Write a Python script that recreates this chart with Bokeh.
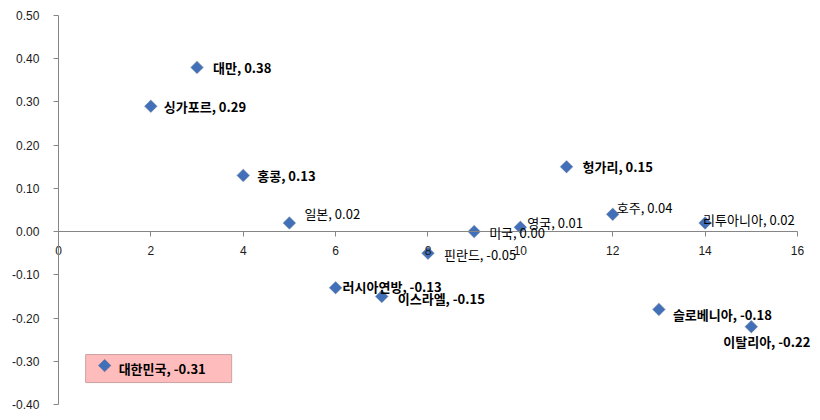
import math
from bokeh.plotting import figure
from bokeh.models import (ColumnDataSource, LabelSet, Label, Range1d, FixedTicker,
                          NumeralTickFormatter, LinearAxis)
from bokeh.core.properties import value
from bokeh.embed import file_html
from bokeh.resources import INLINE

# ---- data ----
countries = ["대한민국", "싱가포르", "대만", "홍콩", "일본", "러시아연방", "이스라엘",
             "핀란드", "미국", "영국", "헝가리", "호주", "슬로베니아", "리투아니아", "이탈리아"]
x_pos = [1, 2, 3, 4, 5, 6, 7, 8, 9, 10, 11, 12, 13, 14, 15]
values = [-0.31, 0.29, 0.38, 0.13, 0.02, -0.13, -0.15, -0.05, 0.00, 0.01, 0.15, 0.04,
          -0.18, 0.02, -0.22]
x_ticks = [0, 2, 4, 6, 8, 10, 12, 14, 16]
y_ticks = [-0.4, -0.3, -0.2, -0.1, 0.0, 0.1, 0.2, 0.3, 0.4, 0.5]
highlight = "대한민국"

# ---- label placement (pixels) and weights ----
label_style = {
    "싱가포르": (13, 0, "bold"),
    "대만": (16, 0, "bold"),
    "홍콩": (14, 0, "bold"),
    "일본": (15, 9, "normal"),
    "러시아연방": (7, 1, "bold"),
    "이스라엘": (16, -2, "bold"),
    "핀란드": (16, -1, "normal"),
    "미국": (15, -1, "normal"),
    "영국": (7, 5, "normal"),
    "헝가리": (16, 0, "bold"),
    "호주": (4, 7, "normal"),
    "슬로베니아": (14, -5, "bold"),
    "리투아니아": (-2, 3, "normal"),
    "이탈리아": (-28, -15, "bold"),
}

def fmt(name, v):
    sep = ",  " if v < 0 else ", "
    return f"{name}{sep}{v:.2f}"

lx, ly, lt, xo, yo, fs = [], [], [], [], [], []
for n, xv, v in zip(countries, x_pos, values):
    if n not in label_style:
        continue
    dx, dy, w = label_style[n]
    lx.append(xv); ly.append(v); lt.append(fmt(n, v))
    xo.append(dx); yo.append(dy); fs.append(w)

pts = ColumnDataSource(dict(x=x_pos, y=values))
lab = ColumnDataSource(dict(x=lx, y=ly, text=lt, xo=xo, yo=yo, fs=fs))

p = figure(width=820, height=420, output_backend="svg", toolbar_location=None,
           x_range=Range1d(-1.255, 16.455), y_range=Range1d(-0.4371, 0.5348),
           x_axis_location=None, y_axis_location=None,
           min_border_left=0, min_border_right=2, min_border_top=0, min_border_bottom=0)
p.outline_line_color = None
p.xgrid.visible = False
p.ygrid.visible = False
p.background_fill_color = "white"
p.border_fill_color = "white"

axis_color = "#868686"
tick_font = "Liberation Sans"

yaxis = LinearAxis(ticker=FixedTicker(ticks=y_ticks), fixed_location=0,
                   bounds=(-0.4, 0.5),
                   formatter=NumeralTickFormatter(format="0.00"))
xaxis = LinearAxis(ticker=FixedTicker(ticks=x_ticks), fixed_location=0, bounds=(0, 16))
for ax in (xaxis, yaxis):
    ax.axis_line_color = axis_color
    ax.major_tick_line_color = axis_color
    ax.major_tick_out = 5
    ax.major_tick_in = 0
    ax.minor_tick_line_color = None
    ax.major_label_text_font = tick_font
    ax.major_label_text_font_size = "12px"
    ax.major_label_text_color = "#1a1a1a"
yaxis.major_label_standoff = 14
xaxis.major_label_standoff = 9
p.add_layout(yaxis, "left")
p.add_layout(xaxis, "below")

# Highlighted label box for Korea (behind the marker)
ki = countries.index(highlight)
korea = Label(x=x_pos[ki], y=values[ki], text=fmt(countries[ki], values[ki]),
              x_offset=-19, y_offset=-3, text_baseline="middle",
              text_font="Noto Sans CJK KR", text_font_size="13px",
              text_font_style="bold", text_color="#000000",
              background_fill_color="#ffbcbc",
              border_line_color="#c9a3a3", border_line_width=1,
              padding=dict(left=33, right=23, top=4, bottom=5))
korea.level = "underlay"
p.add_layout(korea)

# marker shadow + markers
p.scatter("x", "y", source=pts, marker="square", angle=math.pi / 4, size=10,
          fill_color="#7f7f7f", fill_alpha=0.25, line_color=None)
p.scatter("x", "y", source=pts, marker="square", angle=math.pi / 4, size=8.5,
          fill_color="#4170b8", line_color="#3b66a8", line_width=0.5)

labels = LabelSet(x="x", y="y", text="text", source=lab, x_offset="xo", y_offset="yo",
                  text_baseline="middle", text_align="left",
                  text_font=value("Noto Sans CJK KR"), text_font_size="13px",
                  text_font_style="fs", text_color="#000000")
p.add_layout(labels)

open("out.html", "w").write(file_html(p, INLINE))
